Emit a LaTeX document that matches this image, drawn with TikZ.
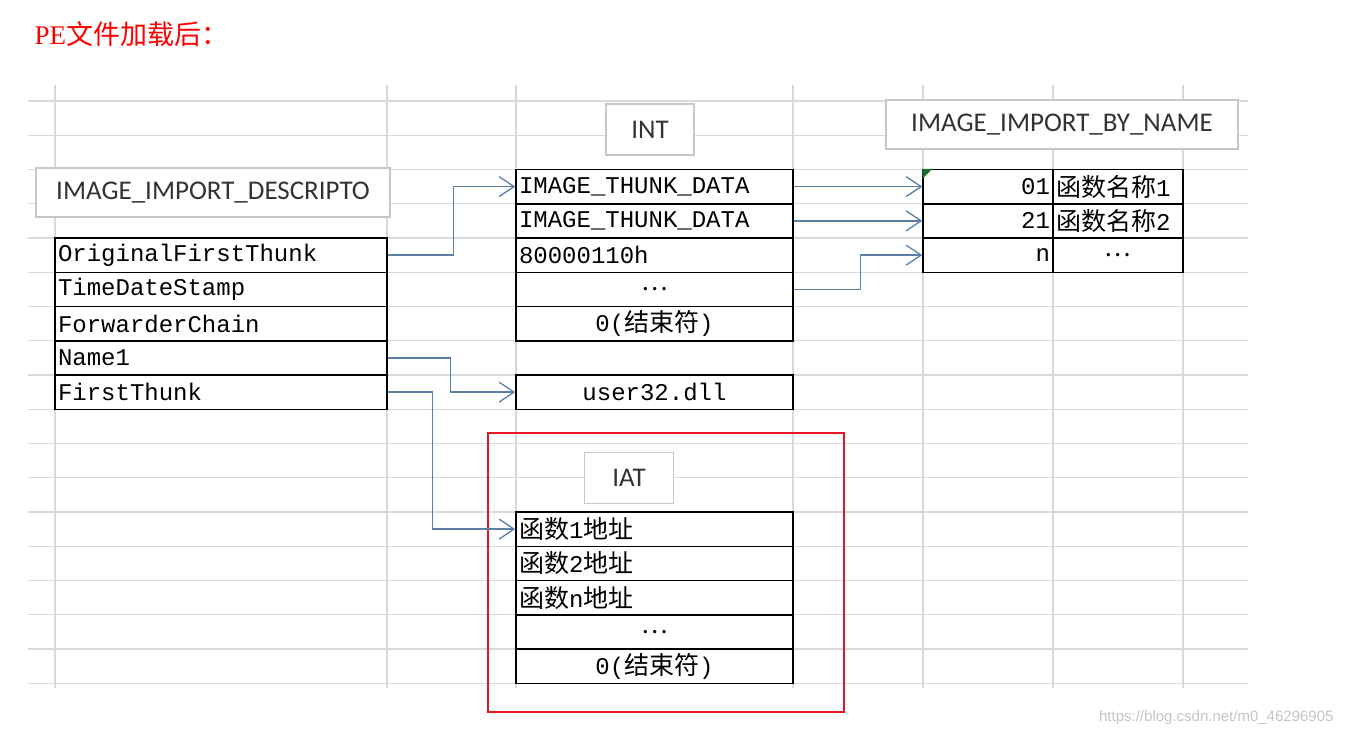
\documentclass[tikz,border=0pt]{standalone}
\usepackage{fontspec}
\setmainfont{Liberation Serif}
\newfontfamily\cjk{Noto Sans CJK SC}
\newfontfamily\monofnt{Liberation Mono}
\newfontfamily\boxfnt{Carlito}
\newfontfamily\wmfnt{Liberation Sans}
\usetikzlibrary{arrows.meta}
\definecolor{gridgray}{HTML}{D9D9D9}
\definecolor{boxgray}{HTML}{C8C8C8}
\definecolor{boxtext}{HTML}{333333}
\definecolor{linkblue}{HTML}{5B80A8}
\definecolor{framered}{HTML}{E8171F}
\definecolor{tickgreen}{HTML}{1F6B2E}
\definecolor{wmgray}{HTML}{C4C4C4}
\newcommand{\hanzi}[1]{{\cjk\fontsize{25}{28}\selectfont #1}}

\begin{document}
\begin{tikzpicture}[x=1pt, y=-1pt,
  gridline/.style={gridgray, line width=1.4pt},
  cell/.style={draw=black, fill=white, line width=1.5pt, minimum height=34.25pt,
    inner xsep=3pt, inner ysep=0pt, font=\monofnt\fontsize{24}{28}\selectfont},
  fld/.style={cell, text width=#1, align=left},
  fldC/.style={cell, text width=#1, align=center},
  fldR/.style={cell, text width=#1, align=right},
  lbl/.style={draw=boxgray, fill=white, line width=1.3pt, inner sep=0pt,
    font=\boxfnt\fontsize{27}{30}\selectfont, text=boxtext},
  link/.style={-{Straight Barb[length=15pt, width=20pt, line width=1.3pt]}, linkblue, line width=1.3pt}]
\useasboundingbox (0,0) rectangle (1345,737);

% spreadsheet grid
\foreach \k in {0,...,17}
  \draw[gridline] (28,{101+34.25*\k}) -- (1248,{101+34.25*\k});
\foreach \x in {55,387,516,793,923,1053,1183}
  \draw[gridline] (\x,85) -- (\x,688);

\node[anchor=base west, text=red, font=\fontsize{27}{30}\selectfont] (title) at (31,44)
  {PE{\cjk 文件加载后：}};

% IMAGE_IMPORT_DESCRIPTOR
\node[lbl, minimum width=354pt, minimum height=49pt] (descT) at (213,192.5) {IMAGE\_IMPORT\_DESCRIPTO};
\node[fld=326pt] (oft) at (221,255.125) {OriginalFirstThunk};
\node[fld=326pt] (tds) at (221,289.375) {TimeDateStamp};
\node[fld=326pt] (fwc) at (221,323.625) {ForwarderChain};
\node[fld=326pt] (nm)  at (221,357.875) {Name1};
\node[fld=326pt] (ft)  at (221,392.125) {FirstThunk};

% INT
\node[lbl, minimum width=88pt, minimum height=51pt] (intT) at (650,129.5) {INT};
\node[fld=271pt]  (int1) at (654.5,186.625) {IMAGE\_THUNK\_DATA};
\node[fld=271pt]  (int2) at (654.5,220.875) {IMAGE\_THUNK\_DATA};
\node[fld=271pt]  (int3) at (654.5,255.125) {80000110h};
\node[fldC=271pt] (int4) at (654.5,289.375) {\hanzi{…}};
\node[fldC=271pt] (int5) at (654.5,323.625) {0(\hanzi{结束符})};
\node[fldC=271pt] (dll)  at (654.5,392.125) {user32.dll};

% IMAGE_IMPORT_BY_NAME
\node[lbl, minimum width=352pt, minimum height=49pt] (ibnT) at (1062,124.5) {IMAGE\_IMPORT\_BY\_NAME};
\node[fldR=124pt] (ibn1) at (988,186.625) {01};
\node[fld=124pt]  (fn1)  at (1118,186.625) {\hanzi{函数名称}1};
\node[fldR=124pt] (ibn2) at (988,220.875) {21};
\node[fld=124pt]  (fn2)  at (1118,220.875) {\hanzi{函数名称}2};
\node[fldR=124pt] (ibn3) at (988,255.125) {n};
\node[fldC=124pt] (fn3)  at (1118,255.125) {\hanzi{…}};
\fill[tickgreen] (ibn1.north west) -- ++(10,0) -- ++(-10,10) -- cycle;

% IAT
\draw[framered, line width=2pt] (488,432.5) rectangle (844,711.5);
\node[lbl, minimum width=89pt, minimum height=51pt] (iatT) at (629,478) {IAT};
\node[fld=271pt]  (iat1) at (654.5,529.125) {\hanzi{函数}1\hanzi{地址}};
\node[fld=271pt]  (iat2) at (654.5,563.375) {\hanzi{函数}2\hanzi{地址}};
\node[fld=271pt]  (iat3) at (654.5,597.625) {\hanzi{函数}n\hanzi{地址}};
\node[fldC=271pt] (iat4) at (654.5,631.875) {\hanzi{…}};
\node[fldC=271pt] (iat5) at (654.5,666.125) {0(\hanzi{结束符})};

% links
\draw[link] (oft.east) -- ++(66,0) |- (int1.west);
\draw[link] (int1.east) -- (ibn1.west);
\draw[link] (int2.east) -- (ibn2.west);
\draw[link] (int4.east) -- ++(67,0) |- (ibn3.west);
\draw[link] (nm.east) -- ++(63,0) |- (dll.west);
\draw[link] (ft.east) -- ++(45,0) |- (iat1.west);

\node[anchor=east, text=wmgray, font=\wmfnt\fontsize{15}{18}\selectfont] (wm) at (1337,718)
  {https://blog.csdn.net/m0\_46296905};
\end{tikzpicture}
\end{document}
